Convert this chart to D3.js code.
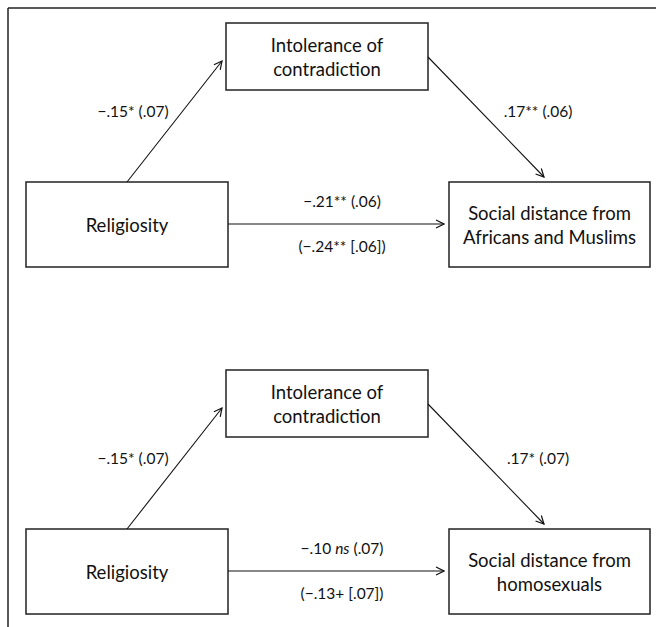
<!DOCTYPE html>
<html>
<head>
<meta charset="utf-8">
<script src="https://cdn.jsdelivr.net/npm/d3@7"></script>
<style>
  body { margin: 0; background: #fff; }
  text { font-family: Lato, "Open Sans", sans-serif; fill: #111; }
</style>
</head>
<body>
<script>
// Mediation models: one panel per outcome
var panels = ["africans", "homosexuals"];
var predictorLabel = ["Religiosity"];
var mediatorLabel = ["Intolerance of", "contradiction"];
var outcomeLabels = [
  ["Social distance from", "Africans and Muslims"],
  ["Social distance from", "homosexuals"]
];
// path a, path b, direct c', total c
var pathA = [["\u2212.15* (.07)"], ["\u2212.15* (.07)"]];
var pathB = [[".17** (.06)"], [".17* (.07)"]];
var pathDirect = [
  [{t: "\u2212.21** (.06)"}],
  [{t: "\u2212.10 "}, {t: "ns", it: true}, {t: " (.07)"}]
];
var pathTotal = ["(\u2212.24** [.06])", "(\u2212.13+ [.07])"];

var width = 656, height = 627;

var svg = d3.select("body").append("svg")
    .attr("width", width)
    .attr("height", height);

var defs = svg.append("defs");
defs.append("marker")
    .attr("id", "arrow")
    .attr("viewBox", "0 0 10 10")
    .attr("refX", 9).attr("refY", 5)
    .attr("markerWidth", 10).attr("markerHeight", 10)
    .attr("markerUnits", "userSpaceOnUse")
    .attr("orient", "auto")
  .append("path")
    .attr("d", "M1,1 L9,5 L1,9")
    .attr("fill", "none")
    .attr("stroke", "#111")
    .attr("stroke-width", 1.2);

// outer frame (only top and left edges show)
svg.append("line").attr("x1", 8).attr("y1", 8).attr("x2", width).attr("y2", 8)
    .attr("stroke", "#222").attr("stroke-width", 1.5);
svg.append("line").attr("x1", 8).attr("y1", 8).attr("x2", 8).attr("y2", height)
    .attr("stroke", "#222").attr("stroke-width", 1.5);

// panel offset scale
var py = d3.scalePoint().domain(panels).range([0, 347]);

// box geometry within a panel
var boxes = {
  pred: {x: 26, y: 182, w: 202, h: 85},
  med:  {x: 226, y: 23, w: 202, h: 67},
  out:  {x: 449, y: 182, w: 201, h: 85}
};

panels.forEach(function(p, i){
  var g = svg.append("g").attr("transform", "translate(0," + py(p) + ")");

  // boxes
  Object.keys(boxes).forEach(function(k){
    var b = boxes[k];
    g.append("rect")
      .attr("x", b.x).attr("y", b.y)
      .attr("width", b.w).attr("height", b.h)
      .attr("fill", "#fff")
      .attr("stroke", "#222")
      .attr("stroke-width", 1.5);
  });

  function boxText(b, lines, dy){
    var cx = b.x + b.w / 2, cy = b.y + b.h / 2;
    var start = cy - (lines.length - 1) * dy / 2;
    g.selectAll(null).data(lines).enter().append("text")
      .attr("x", cx)
      .attr("y", function(d, j){ return start + j * dy; })
      .attr("text-anchor", "middle")
      .attr("dominant-baseline", "central")
      .style("font-size", "18.5px")
      .text(function(d){ return d; });
  }
  boxText(boxes.pred, predictorLabel, 24);
  boxText(boxes.med, mediatorLabel, 24);
  boxText(boxes.out, outcomeLabels[i], 24);

  // arrows
  var arrows = [
    [127, 182, 222, 61],
    [428, 57, 544, 177],
    [228, 224, 444, 224]
  ];
  g.selectAll(null).data(arrows).enter().append("line")
    .attr("x1", function(d){ return d[0]; })
    .attr("y1", function(d){ return d[1]; })
    .attr("x2", function(d){ return d[2]; })
    .attr("y2", function(d){ return d[3]; })
    .attr("stroke", "#111")
    .attr("stroke-width", 1.1)
    .attr("marker-end", "url(#arrow)");

  // coefficient labels
  function label(x, y, parts){
    var t = g.append("text")
      .attr("x", x).attr("y", y)
      .attr("text-anchor", "middle")
      .attr("dominant-baseline", "central")
      .style("font-size", "15.5px");
    t.selectAll("tspan").data(parts).enter().append("tspan")
      .style("font-style", function(d){ return d.it ? "italic" : null; })
      .text(function(d){ return d.t; });
  }
  label(133, 111, [{t: pathA[i][0]}]);
  label(538, 111, [{t: pathB[i][0]}]);
  label(342, 201, pathDirect[i]);
  label(342, 246, [{t: pathTotal[i]}]);
});
</script>
</body>
</html>
